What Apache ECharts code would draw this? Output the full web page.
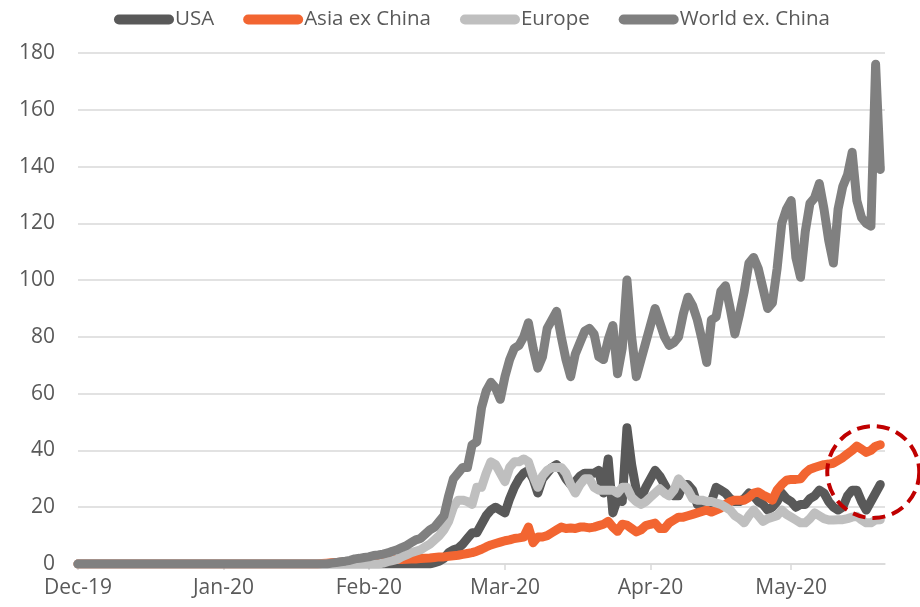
<!DOCTYPE html>
<html>
<head>
<meta charset="utf-8">
<style>
  html, body { margin: 0; padding: 0; background: #ffffff; }
  #chart { width: 920px; height: 607px; }
</style>
<script src="https://cdn.jsdelivr.net/npm/echarts@6/dist/echarts.min.js"></script>
</head>
<body>
<div id="chart"></div>
<script>
// Daily series, 1 Dec 2019 onwards
const startDate = Date.UTC(2019, 11, 1);
const dayCount = 173;
const monthNames = ['Jan', 'Feb', 'Mar', 'Apr', 'May', 'Jun', 'Jul', 'Aug', 'Sep', 'Oct', 'Nov', 'Dec'];

const seriesNames = ['USA', 'Asia ex China', 'Europe', 'World ex. China'];

const usa = [
  0,0,0,0,0,0,0,0,0,0, 0,0,0,0,0,0,0,0,0,0, 0,0,0,0,0,0,0,0,0,0,
  0,0,0,0,0,0,0,0,0,0, 0,0,0,0,0,0,0,0,0,0, 0,0,0,0,0,0,0,0,0,0,
  0,0,0,0,0,0,0,0,0,0, 0,0,0,0,0,0,
  0.5, 1, 2, 4, 5, 5.5, 7, 9, 11, 11,
  14, 17, 19, 20, 19, 18, 23, 27, 30, 32,
  33, 30, 25, 30, 32, 34, 35, 33, 30, 28,
  29, 31, 32, 32, 32, 33, 25, 37, 18, 23,
  22, 48, 35, 26, 23, 27, 30, 33, 31, 28,
  25, 24, 24, 28, 28, 26, 21, 20, 20, 22,
  27, 26, 25, 23, 22, 22, 23, 25, 24, 22,
  21, 19, 20, 22, 25, 23, 22, 20, 21, 21,
  23, 24, 26, 25, 22, 20, 19, 20, 24, 26,
  26, 22, 19, 22, 25, 28
];

const asiaExChina = [
  0,0,0,0,0,0,0,0,0,0, 0,0,0,0,0,0,0,0,0,0, 0,0,0,0,0,0,0,0,0,0,
  0,0,0,0,0,0,0,0,0,0, 0,0,0,0,0,0,0,0,0,0, 0,0,
  0.2, 0.3, 0.4, 0.5, 0.6, 0.7, 0.8, 0.9, 1, 1,
  1.1, 1.2, 1.3, 1.4, 1.5, 1.5, 1.6, 1.6, 1.7, 1.8,
  1.8, 1.9, 2, 2.1, 2.3, 2.5, 2.5, 2.7, 2.9, 3.1,
  3.4, 3.7, 4, 4.5, 5.2, 6, 6.7, 7.2, 7.7, 8.2,
  8.5, 9, 9.2, 9.5, 13, 7.5, 9.5, 9.5, 10, 11,
  12, 13, 12.5, 12.7, 12.5, 13, 13, 12.7, 13, 13.5,
  14, 15, 13, 11.5, 14, 13.7, 12.5, 11.3, 12, 13.5,
  14, 14.4, 12.5, 12.5, 14.5, 15.5, 16.5, 16.5, 17, 17.5,
  18, 18.5, 19, 18.3, 19, 19.7, 21, 22, 22.5, 22.5,
  22.5, 23.5, 25, 25.4, 24.3, 23.5, 22.5, 26, 28, 29.5,
  29.8, 29.8, 30, 32, 33.4, 34, 34.5, 35, 35.2, 35.5,
  36.5, 37.5, 38.8, 40, 41.5, 40.5, 39.3, 40, 41.5, 42
];

const europe = [
  0,0,0,0,0,0,0,0,0,0, 0,0,0,0,0,0,0,0,0,0, 0,0,0,0,0,0,0,0,0,0,
  0,0,0,0,0,0,0,0,0,0, 0,0,0,0,0,0,0,0,0,0, 0,0,0,0,0,0,0,0,0,0,
  0,0,0,0,0,
  0.3, 0.8, 1.2, 1.6, 2.5, 3.2, 4, 4.5, 5, 6,
  7, 8.5, 10, 12, 15, 20, 22.5, 22.5, 22, 21,
  27, 27, 32, 36, 35, 32, 29, 34, 36, 36,
  37, 36, 31, 27, 31, 33, 34, 34, 34, 32,
  28, 25, 28, 30, 30, 27, 26, 26, 26, 26,
  25, 27, 27, 23.5, 22, 21, 22, 23.5, 25, 26.5,
  25, 24, 26, 30, 28, 26, 23, 22.5, 22.5, 22,
  22, 21.5, 21, 20, 19, 17, 16, 14.5, 17, 19,
  17, 15, 16, 16.5, 17, 19, 17.5, 16.5, 15.5, 14.5,
  14.5, 16, 18, 17, 16, 15.5, 15.5, 15.6, 15.6, 16,
  16.5, 16.8, 15.5, 14.5, 14.5, 15.5, 15.6
];

const worldExChina = [
  0,0,0,0,0,0,0,0,0,0, 0,0,0,0,0,0,0,0,0,0, 0,0,0,0,0,0,0,0,0,0,
  0,0,0,0,0,0,0,0,0,0, 0,0,0,0,0,0,0,0,0,0, 0,0,0,0,
  0.3, 0.5, 0.8, 1, 1.3, 1.8, 2, 2.3, 2.5, 3,
  3.2, 3.5, 3.9, 4.5, 5, 5.8, 6.5, 7.5, 8.5, 9,
  10.5, 12, 13, 15, 17, 24, 30, 32, 34, 34,
  42, 43, 55, 61, 64, 62, 58, 66, 72, 76,
  77, 80, 85, 76, 69, 73, 83, 86, 89, 80,
  72, 66, 74, 78, 82, 83, 81, 73, 72, 79,
  84, 67, 76, 100, 80, 66, 72, 78, 84, 90,
  85, 80, 77, 78, 80, 88, 94, 91, 86, 79,
  71, 86, 87, 96, 98, 90, 81, 88, 96, 106,
  108, 104, 97, 90, 92, 104, 120, 125, 128, 108,
  101, 117, 127, 129, 134, 125, 114, 106, 125, 133,
  137, 145, 128, 122, 120, 119, 176, 139
];

const yTickValues = [0, 20, 40, 60, 80, 100, 120, 140, 160, 180];

// Date categories as YYYY-MM-DD
const categories = [];
for (let i = 0; i < dayCount; i++) {
  const d = new Date(startDate + i * 86400000);
  const mm = String(d.getUTCMonth() + 1).padStart(2, '0');
  const dd = String(d.getUTCDate()).padStart(2, '0');
  categories.push(d.getUTCFullYear() + '-' + mm + '-' + dd);
}
const isMonthStart = (idx, val) => val.slice(8) === '01';
const monthLabel = (val) => {
  const m = parseInt(val.slice(5, 7), 10) - 1;
  return monthNames[m] + '-' + val.slice(2, 4);
};

const colors = ['#595959', '#f26531', '#bfbfbf', '#808080'];
const values = [usa, asiaExChina, europe, worldExChina];

const textColor = '#595959';
const fontFamily = '"Open Sans", "Liberation Sans", sans-serif';
const capsule = 'path://M5,0 H55 A5,5 0 0 1 55,10 H5 A5,5 0 0 1 5,0 Z';

const chart = echarts.init(document.getElementById('chart'), null, { renderer: 'canvas' });

const option = {
  animation: false,
  backgroundColor: '#ffffff',
  textStyle: { fontFamily: fontFamily },
  legend: {
    data: seriesNames,
    left: 109,
    top: 4,
    icon: capsule,
    itemWidth: 60,
    itemHeight: 10,
    itemGap: 29,
    textStyle: { fontSize: 20.5, color: textColor, fontFamily: fontFamily, padding: [0, 0, 0, -4] }
  },
  grid: { left: 78, right: 35, top: 53, bottom: 43, containLabel: false },
  xAxis: {
    type: 'category',
    data: categories,
    boundaryGap: false,
    axisLine: { show: true, lineStyle: { color: '#d9d9d9', width: 1.5 } },
    axisTick: { show: true, interval: isMonthStart, length: 6, lineStyle: { color: '#d9d9d9', width: 1.5 } },
    axisLabel: {
      interval: isMonthStart,
      formatter: monthLabel,
      color: textColor,
      fontSize: 21,
      fontFamily: fontFamily,
      margin: 14
    },
    splitLine: { show: false }
  },
  yAxis: {
    type: 'value',
    min: yTickValues[0],
    max: yTickValues[yTickValues.length - 1],
    interval: yTickValues[1] - yTickValues[0],
    axisLine: { show: false },
    axisTick: { show: false },
    axisLabel: { color: textColor, fontSize: 21, fontFamily: fontFamily, margin: 23 },
    splitLine: { lineStyle: { color: '#d9d9d9', width: 1.5 } }
  },
  series: seriesNames.map((name, k) => ({
    name: name,
    type: 'line',
    data: values[k],
    showSymbol: false,
    symbol: 'none',
    smooth: false,
    lineStyle: { color: colors[k], width: 9, cap: 'round', join: 'round' },
    itemStyle: { color: colors[k] },
    z: 2 + k
  }))
};

chart.setOption(option);

// Dashed red ring highlighting the latest readings
const p0 = chart.convertToPixel({ gridIndex: 0 }, [169, 32.4]);
const p1 = chart.convertToPixel({ gridIndex: 0 }, [170, 32.4]);
chart.setOption({
  graphic: [{
    type: 'circle',
    shape: { cx: (p0[0] + p1[0]) / 2, cy: p0[1], r: 46 },
    style: { fill: 'none', stroke: '#c00000', lineWidth: 4, lineDash: [13, 7] },
    z: 100
  }]
});
</script>
</body>
</html>
